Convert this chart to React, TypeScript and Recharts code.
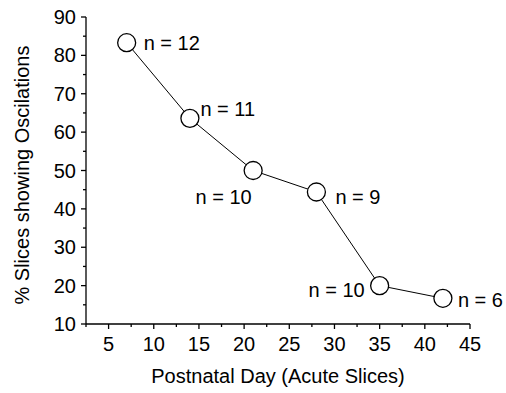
import { Label, Line, LineChart, XAxis, YAxis } from 'recharts'

// postnatal day of the acute slice preparation
const days = [7, 14, 21, 28, 35, 42]
// percentage of slices that showed oscillations
const pctOscillating = [83.3, 63.6, 50, 44.4, 20, 16.7]
// number of slices tested on each day
const sliceCounts = [12, 11, 10, 9, 10, 6]

const xTicks = [2.5, 5, 7.5, 10, 12.5, 15, 17.5, 20, 22.5, 25, 27.5, 30, 32.5, 35, 37.5, 40, 42.5, 45]
const yTicks = [10, 15, 20, 25, 30, 35, 40, 45, 50, 55, 60, 65, 70, 75, 80, 85, 90]

const data = days.map((d, i) => ({ day: d, pct: pctOscillating[i], n: sliceCounts[i] }))

const FONT = '"Liberation Sans", Arial, sans-serif'
const FONT_SIZE = 20
const INK = '#000'

// where each "n = x" annotation sits relative to its marker
type Place = { dx: number; dy: number; anchor: 'start' | 'end' }
const PLACES: Record<string, Place> = {
  right: { dx: 17, dy: 7.5, anchor: 'start' },
  upRight: { dx: 10.5, dy: -2.5, anchor: 'start' },
  below: { dx: -1.5, dy: 33, anchor: 'end' },
  lowRight: { dx: 19, dy: 12, anchor: 'start' },
  left: { dx: -15, dy: 11, anchor: 'end' },
  nearRight: { dx: 15, dy: 9, anchor: 'start' },
}
const labelPlacement = ['right', 'upRight', 'below', 'lowRight', 'left', 'nearRight']

function XTick({ x, y, payload }: any) {
  const major = payload.value % 5 === 0
  return (
    <g>
      <line x1={x} x2={x} y1={y} y2={y + (major ? 5 : 3)} stroke={INK} strokeWidth={1.3} />
      {major && (
        <text x={x} y={y + 27} textAnchor="middle" fontFamily={FONT} fontSize={FONT_SIZE} fill={INK}>
          {payload.value}
        </text>
      )}
    </g>
  )
}

function YTick({ x, y, payload }: any) {
  const major = payload.value % 10 === 0
  return (
    <g>
      <line x1={x} x2={x - (major ? 5 : 3)} y1={y} y2={y} stroke={INK} strokeWidth={1.3} />
      {major && (
        <text x={x - 10} y={y + 7} textAnchor="end" fontFamily={FONT} fontSize={FONT_SIZE} fill={INK}>
          {payload.value}
        </text>
      )}
    </g>
  )
}

function Marker({ cx, cy, index, payload }: any) {
  const p = PLACES[labelPlacement[index]]
  return (
    <g key={`m-${index}`}>
      <circle cx={cx} cy={cy} r={9} fill="#fff" stroke={INK} strokeWidth={1.3} />
      <text x={cx + p.dx} y={cy + p.dy} textAnchor={p.anchor} fontFamily={FONT} fontSize={FONT_SIZE} fill={INK}>
        {`n = ${payload.n}`}
      </text>
    </g>
  )
}

export default function App() {
  return (
    <div style={{ position: 'absolute', left: 0, top: 0, width: 506, height: 393, background: '#fff' }}>
      <LineChart width={506} height={393} data={data} margin={{ top: 17, right: 36, bottom: 29, left: 26 }}>
        <XAxis
          dataKey="day"
          type="number"
          domain={[2.5, 45]}
          ticks={xTicks}
          interval={0}
          height={40}
          tickSize={0}
          tickMargin={0}
          tickLine={false}
          tick={<XTick />}
          axisLine={{ stroke: INK, strokeWidth: 1.3 }}
        >
          <Label
            content={({ viewBox }: any) => (
              <text
                x={viewBox.x + viewBox.width / 2}
                y={383}
                textAnchor="middle"
                fontFamily={FONT}
                fontSize={FONT_SIZE}
                fill={INK}
              >
                Postnatal Day (Acute Slices)
              </text>
            )}
          />
        </XAxis>
        <YAxis
          type="number"
          domain={[10, 90]}
          ticks={yTicks}
          interval={0}
          width={60}
          tickSize={0}
          tickMargin={0}
          tickLine={false}
          tick={<YTick />}
          axisLine={{ stroke: INK, strokeWidth: 1.3 }}
        >
          <Label
            content={() => (
              <text
                transform="translate(29,175) rotate(-90)"
                textAnchor="middle"
                fontFamily={FONT}
                fontSize={FONT_SIZE}
                fill={INK}
              >
                % Slices showing Oscilations
              </text>
            )}
          />
        </YAxis>
        <Line
          type="linear"
          dataKey="pct"
          stroke={INK}
          strokeWidth={1}
          dot={(props: any) => <Marker {...props} />}
          activeDot={false}
          isAnimationActive={false}
        />
      </LineChart>
    </div>
  )
}
